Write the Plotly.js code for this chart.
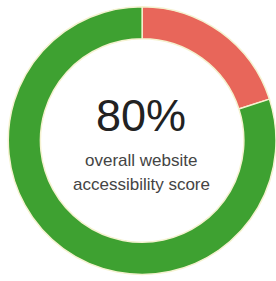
<!DOCTYPE html>
<html><head><meta charset="utf-8">
<script src="https://cdn.plot.ly/plotly-3.0.1.min.js"></script>
<style>html,body{margin:0;padding:0;background:#fff}#chart{width:276px;height:281px}</style>
</head><body><div id="chart"></div>
<script>
const labels = ["Issues", "Accessible"];
const values = [20, 80];
const colors = ["#e8665a", "#3ea131"];
const scoreText = "80%";
const subText = ["overall website", "accessibility score"];

const trace = {
  type: "pie",
  labels: labels,
  values: values,
  sort: false,
  direction: "clockwise",
  rotation: 0,
  hole: 0.76,
  textinfo: "none",
  hoverinfo: "none",
  marker: { colors: colors, line: { color: "#f5f2d0", width: 1.5 } },
  domain: { x: [0.03, 1.0], y: [0.02, 0.98] },
  showlegend: false
};

const layout = {
  width: 276, height: 281,
  margin: { l: 0, r: 0, t: 0, b: 0 },
  paper_bgcolor: "#ffffff",
  showlegend: false,
  annotations: [
    { text: scoreText, x: 0.512, y: 0.588, xref: "paper", yref: "paper", showarrow: false,
      font: { family: "Liberation Sans, Arial, sans-serif", size: 45, color: "#222222" } },
    { text: subText[0], x: 0.512, y: 0.43, xref: "paper", yref: "paper", showarrow: false,
      font: { family: "Liberation Sans, Arial, sans-serif", size: 17, color: "#444444" } },
    { text: subText[1], x: 0.512, y: 0.343, xref: "paper", yref: "paper", showarrow: false,
      font: { family: "Liberation Sans, Arial, sans-serif", size: 17, color: "#444444" } }
  ]
};

Plotly.newPlot("chart", [trace], layout, { staticPlot: true, displayModeBar: false });
</script></body></html>
